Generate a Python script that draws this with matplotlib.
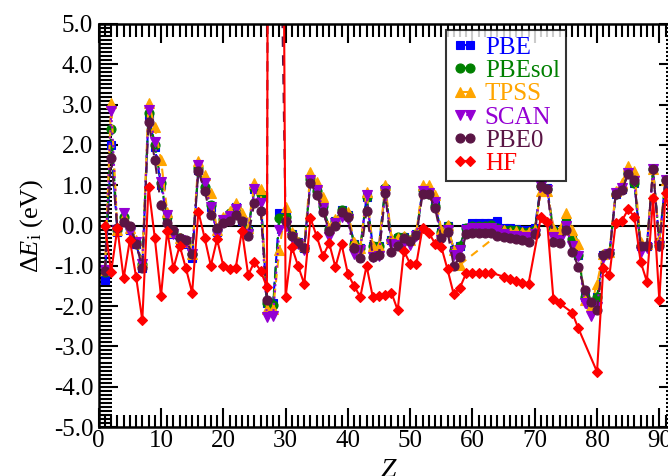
import numpy as np
import matplotlib
matplotlib.use("Agg")
import matplotlib.pyplot as plt
from matplotlib.ticker import MultipleLocator, FormatStrFormatter

plt.rcParams['font.family'] = ['Liberation Serif', 'DejaVu Serif']
plt.rcParams['mathtext.fontset'] = 'custom'
plt.rcParams['mathtext.rm'] = 'Liberation Serif'
plt.rcParams['mathtext.it'] = 'Liberation Serif:italic'
plt.rcParams['axes.unicode_minus'] = False

nan = np.nan
Z = np.arange(1, 93)

PBE = [-1.35, 2.0, -0.15, 0.15, -0.12, -0.45, -1.05, 2.75, 1.95, 1.0,
       0.2, -0.2, -0.35, -0.45, -0.8, 1.37, 0.9, 0.45, -0.15, 0.1,
       0.25, 0.45, 0.12, -0.1, 0.9, 0.75, -1.92, -1.93, 0.3, 0.2,
       -0.2, -0.4, -0.55, 1.15, 0.85, 0.45, -0.1, 0.1, 0.38, 0.25,
       -0.45, -0.55, 0.7, -0.5, -0.5, 0.9, -0.35, -0.3, -0.28, -0.36,
       -0.2, 0.88, 0.8, 0.5, -0.15, 0.0, -0.6, -0.5, -0.05, 0.05,
       0.05, 0.05, 0.07, 0.1, -0.05, -0.05, -0.08, -0.1, -0.1, -0.05,
       1.0, 0.92, -0.1, -0.15, 0.1, -0.3, -0.72, -1.77, -1.93, -1.77,
       -0.74, -0.69, 0.78, 0.9, 1.3, 1.06, -0.51, -0.51, 1.39, -0.4,
       1.13, 0.3]
PBEsol = [-1.15, 2.4, -0.1, 0.2, -0.05, -0.4, -0.95, 2.8, 2.0, 1.05,
          0.22, -0.15, -0.3, -0.4, -0.7, 1.42, 0.95, 0.5, -0.1, 0.15,
          0.3, 0.47, 0.15, -0.1, 0.92, 0.78, -1.92, -1.97, 0.18, 0.2,
          -0.2, -0.4, -0.55, 1.15, 0.85, 0.48, -0.08, 0.12, 0.38, 0.25,
          -0.45, -0.55, 0.7, -0.5, -0.5, 0.92, -0.36, -0.28, -0.28, -0.36,
          -0.2, 0.88, 0.78, 0.48, -0.15, -0.02, -0.6, -0.5, -0.05, 0.0,
          0.0, 0.0, 0.02, -0.05, -0.1, -0.1, -0.12, -0.15, -0.15, -0.1,
          0.97, 0.9, -0.12, -0.15, 0.09, -0.34, -0.72, -1.77, -1.93, -1.77,
          -0.74, -0.69, 0.78, 0.9, 1.3, 1.06, -0.51, -0.51, 1.39, -0.4,
          1.13, 0.3]
TPSS = [-1.1, 3.05, -0.1, 0.2, -0.05, -0.35, -0.9, 3.05, 2.45, 1.63,
        0.34, -0.15, -0.3, -0.4, -0.7, 1.61, 1.25, 0.8, -0.1, 0.22,
        0.37, 0.55, 0.3, -0.05, 1.05, 0.9, -2.07, -2.07, -0.61, 0.47,
        -0.15, -0.4, -0.5, 1.33, 1.09, 0.7, -0.05, 0.15, 0.3, 0.34,
        -0.4, -0.55, 0.84, -0.5, -0.5, 1.0, -0.3, -0.3, -0.25, -0.35,
        -0.15, 1.0, 1.0, 0.76, -0.1, 0.02, -0.6, -0.97, nan, nan,
        nan, nan, nan, nan, -0.12, -0.15, -0.13, -0.15, -0.15, -0.1,
        0.85, 0.85, -0.05, -0.1, 0.32, -0.11, -0.46, -1.85, -2.0, -1.44,
        -0.7, -0.65, 0.85, 1.05, 1.48, 1.34, -0.4, -0.45, 1.39, -0.35,
        1.13, 0.35]
SCAN = [-1.1, 2.85, -0.1, 0.3, -0.15, -0.4, -0.95, 2.87, 2.08, 1.09,
        0.26, -0.2, -0.35, -0.4, -0.7, 1.5, 1.05, 0.45, -0.2, 0.14,
        0.24, 0.4, 0.05, -0.2, 0.9, 0.55, -2.26, -2.25, -0.11, 0.0,
        -0.3, -0.45, -0.6, 1.13, 0.88, 0.43, -0.28, 0.05, 0.2, 0.15,
        -0.7, -0.6, 0.75, -0.78, -0.75, 0.86, -0.45, -0.48, -0.44, -0.48,
        -0.25, 0.85, 0.8, 0.58, -0.36, -0.1, -0.73, -0.6, -0.1, -0.05,
        -0.05, -0.05, -0.05, -0.1, -0.2, -0.25, -0.25, -0.28, -0.28, -0.2,
        0.97, 0.88, -0.28, -0.36, 0.0, -0.51, -0.75, -1.93, -2.24, -2.01,
        -0.8, -0.7, 0.8, 0.92, 1.3, 1.1, -0.65, -0.55, 1.39, -0.5,
        1.13, 0.25]
PBE0 = [-1.12, 1.68, -0.05, 0.08, 0.0, -0.45, -1.05, 2.58, 1.63, 0.51,
        0.05, -0.1, -0.3, -0.35, -0.7, 1.36, 0.85, 0.25, -0.05, 0.07,
        0.12, 0.26, 0.1, -0.27, 0.57, 0.37, -1.85, 67.0, 9.9, 0.1,
        -0.25, -0.44, -0.57, 1.06, 0.76, 0.34, -0.13, 0.0, 0.34, 0.2,
        -0.55, -0.8, 0.37, -0.78, -0.72, 0.8, -0.65, -0.5, -0.32, -0.38,
        -0.24, 0.78, 0.78, 0.43, -0.3, -0.15, -1.0, -0.78, -0.22, -0.19,
        -0.19, -0.19, -0.18, -0.25, -0.28, -0.3, -0.34, -0.37, -0.4, -0.2,
        0.97, 0.9, -0.4, -0.44, -0.1, -0.65, -1.02, -1.6, -1.9, -2.1,
        -0.74, -0.69, 0.78, 0.88, 1.27, 1.13, -0.51, -0.51, 1.39, -0.5,
        1.13, 0.2]
HF = [0.0, -1.15, -0.07, -1.31, -0.36, -1.27, -2.35, 0.96, -0.30, -1.75,
      -0.13, -1.06, -0.50, -1.06, -1.67, 0.34, -0.30, -1.0, -0.34, -1.0,
      -1.07, -1.05, -0.13, -1.23, -0.9, -1.12, -1.53, 60.0, 28.0, -1.78,
      -0.53, -1.0, -1.45, 0.18, -0.27, -0.76, -0.44, -1.03, -0.47, -1.2,
      -1.5, -1.77, -1.0, -1.77, -1.76, -1.72, -1.67, -2.1, -0.63, -0.95,
      -0.95, -0.05, -0.18, -0.45, -0.53, -1.09, -1.71, -1.54, -1.18, -1.17,
      -1.17, -1.17, -1.17, nan, -1.27, -1.33, -1.38, -1.42, -1.45, nan,
      0.22, 0.08, -1.83, -1.93, nan, -2.16, -2.55, nan, nan, -3.63,
      -1.06, -1.23, 0.06, 0.12, 0.4, 0.22, -0.9, -1.39, 0.67, -1.85,
      0.8, 0.0]

series = [
    ("PBE", PBE, "#0000ff", "s", (0, (5, 2)), 6.0),
    ("PBEsol", PBEsol, "#008000", "o", (0, (6, 2, 1, 2)), 6.5),
    ("TPSS", TPSS, "#ffa500", "^", (0, (4, 3)), 6.5),
    ("SCAN", SCAN, "#9400d3", "v", (0, (1, 2)), 7.0),
    ("PBE0", PBE0, "#5a1545", "o", (0, (5, 4)), 6.5),
    ("HF", HF, "#ff0000", "D", "-", 5.5),
]

fig = plt.figure(figsize=(6.68, 4.76), dpi=100)
ax = fig.add_axes([98.7 / 668, 49 / 476, (678 - 98.7) / 668, 403 / 476])

handles = []
for name, vals, col, mk, ls, ms in series:
    v = np.array(vals, dtype=float)
    m = ~np.isnan(v)
    h, = ax.plot(Z[m], v[m], color=col, marker=mk, linestyle=ls, lw=1.5,
                 markersize=ms, markeredgewidth=0.8, markeredgecolor=col,
                 label=name, clip_on=True)
    handles.append(h)

ax.axhline(0, color="black", lw=1.5, zorder=1)

ax.set_xlim(0, 93)
ax.set_ylim(-5, 5)
ax.xaxis.set_major_locator(MultipleLocator(10))
ax.xaxis.set_minor_locator(MultipleLocator(1))
ax.yaxis.set_major_locator(MultipleLocator(1))
ax.yaxis.set_minor_locator(MultipleLocator(0.1))
ax.yaxis.set_major_formatter(FormatStrFormatter("%.1f"))
ax.tick_params(which="both", direction="in", top=True, right=True, width=1.5)
ax.tick_params(which="major", length=14, labelsize=18)
ax.tick_params(axis="x", which="major", pad=2)
ax.tick_params(axis="y", which="major", pad=4)
ax.tick_params(which="minor", length=9)
for s in ax.spines.values():
    s.set_linewidth(1.8)

ax.set_ylabel(r"$\Delta E_{\mathrm{i}}$ (eV)", fontsize=19)
ax.yaxis.set_label_coords(-0.092, 0.5)
ax.set_xlabel(r"$Z$", fontsize=20)
ax.xaxis.set_label_coords(0.5, -0.078)

leg = ax.legend(handles=handles, loc="upper left",
                bbox_to_anchor=(446 / 668, 1 - 30 / 476),
                bbox_transform=fig.transFigure, borderaxespad=0,
                fontsize=18, frameon=True, fancybox=False, numpoints=2,
                handlelength=1.0, handletextpad=0.3, labelspacing=0.03,
                borderpad=0.25)
leg.get_frame().set_edgecolor("black")
leg.get_frame().set_linewidth(1.5)
for txt, (name, vals, col, mk, ls, ms) in zip(leg.get_texts(), series):
    txt.set_color(col)

fig.savefig("out.png", dpi=100)
